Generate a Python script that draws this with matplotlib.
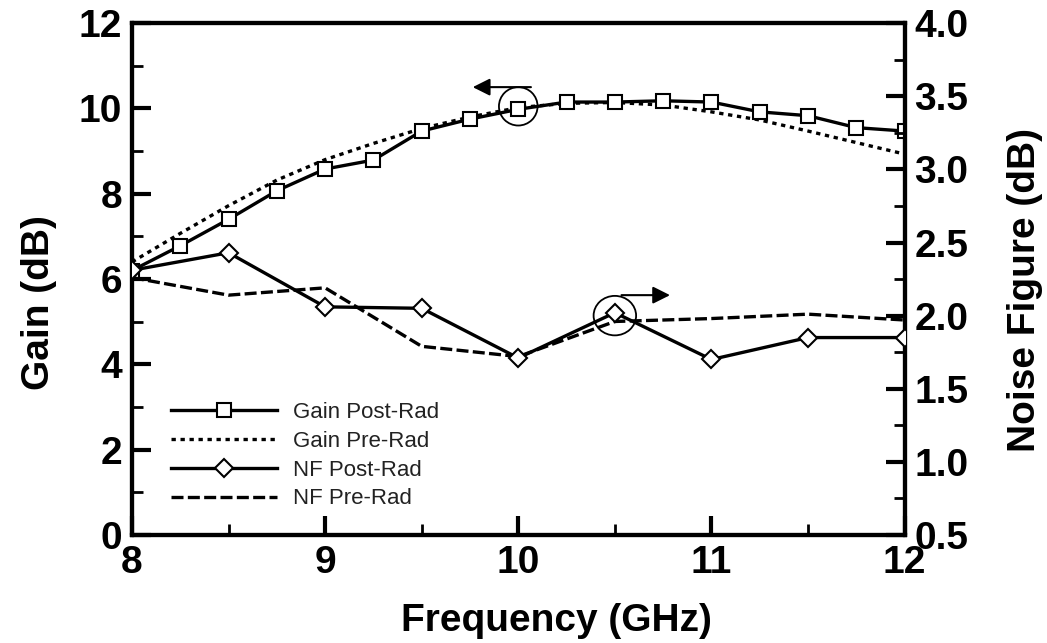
import matplotlib
matplotlib.use('Agg')
import matplotlib.pyplot as plt
from matplotlib.patches import Ellipse
from matplotlib.ticker import MultipleLocator

plt.rcParams['font.family'] = ['Liberation Sans', 'DejaVu Sans']

# gain sweep, 250 MHz steps
freq_gain = [8.0, 8.25, 8.5, 8.75, 9.0, 9.25, 9.5, 9.75, 10.0,
             10.25, 10.5, 10.75, 11.0, 11.25, 11.5, 11.75, 12.0]
gain_post = [6.2, 6.78, 7.4, 8.07, 8.58, 8.79, 9.47, 9.75, 9.98,
             10.15, 10.15, 10.18, 10.15, 9.92, 9.83, 9.55, 9.47]
gain_pre = [6.4, 7.07, 7.72, 8.32, 8.8, 9.18, 9.53, 9.8, 10.02,
            10.12, 10.14, 10.08, 9.92, 9.73, 9.47, 9.2, 8.93]

# noise figure sweep, 500 MHz steps
freq_nf = [8.0, 8.5, 9.0, 9.5, 10.0, 10.5, 11.0, 11.5, 12.0]
nf_post = [2.31, 2.43, 2.06, 2.05, 1.71, 2.02, 1.70, 1.85, 1.85]
nf_pre = [2.26, 2.14, 2.19, 1.79, 1.72, 1.96, 1.98, 2.01, 1.97]

fig = plt.figure(figsize=(10.47, 6.43), dpi=100, facecolor='white')
ax = fig.add_axes([0.126, 0.168, 0.738, 0.796])
ax2 = ax.twinx()

lw = 2.4
l1, = ax.plot(freq_gain, gain_post, '-', color='black', lw=lw, marker='s', ms=10,
              mfc='white', mec='black', mew=1.5, label='Gain Post-Rad', zorder=4)
l2, = ax.plot(freq_gain, gain_pre, color='black', lw=lw, ls=(0, (1.3, 1.4)),
              label='Gain Pre-Rad', zorder=3)
l3, = ax2.plot(freq_nf, nf_post, '-', color='black', lw=lw, marker='D', ms=9,
               mfc='white', mec='black', mew=1.5, label='NF Post-Rad', zorder=4)
l4, = ax2.plot(freq_nf, nf_pre, color='black', lw=lw, ls=(0, (3.6, 1.3)),
               label='NF Pre-Rad', zorder=3)

ax.set_xlim(8, 12)
ax.set_ylim(0, 12)
ax2.set_ylim(0.5, 4.0)

ax.xaxis.set_major_locator(MultipleLocator(1))
ax.xaxis.set_minor_locator(MultipleLocator(0.5))
ax.yaxis.set_major_locator(MultipleLocator(2))
ax.yaxis.set_minor_locator(MultipleLocator(1))
ax2.yaxis.set_major_locator(MultipleLocator(0.5))
ax2.yaxis.set_minor_locator(MultipleLocator(0.25))
ax2.set_yticklabels([f'{v:.1f}' for v in ax2.get_yticks()])

for a in (ax, ax2):
    for s in a.spines.values():
        s.set_linewidth(3)
    a.tick_params(which='major', direction='in', length=14, width=3, labelsize=28, pad=7)
    a.tick_params(which='minor', direction='in', length=8, width=2)
ax.tick_params(top=False, which='both')
ax2.tick_params(top=False, which='both')
for lab in ax.get_xticklabels() + ax.get_yticklabels() + ax2.get_yticklabels():
    lab.set_fontweight('bold')

ax.set_xlabel('Frequency (GHz)', fontsize=28, fontweight='bold', labelpad=16)
ax.set_ylabel('Gain (dB)', fontsize=28, fontweight='bold', labelpad=16)
ax2.set_ylabel('Noise Figure (dB)', fontsize=28, fontweight='bold', labelpad=28)
ax.xaxis.label.set_x(0.55)
ax.yaxis.label.set_y(0.455)
ax2.yaxis.label.set_y(0.478)

# circles marking which axis each pair of curves belongs to
ax.add_patch(Ellipse((10.0, 10.05), 0.2, 0.9, fill=False, lw=1.3, color='black', zorder=5))
ax.annotate('', xy=(9.75, 10.5), xytext=(10.08, 10.5),
            arrowprops=dict(arrowstyle='-|>', color='black', lw=1.5, mutation_scale=26))
ax2.add_patch(Ellipse((10.5, 2.0), 0.22, 0.27, fill=False, lw=1.3, color='black', zorder=5))
ax2.annotate('', xy=(10.8, 2.14), xytext=(10.52, 2.14),
             arrowprops=dict(arrowstyle='-|>', color='black', lw=1.5, mutation_scale=26))

ax.legend(handles=[l1, l2, l3, l4], loc='lower left', bbox_to_anchor=(0.05, 0.05),
          borderaxespad=0, borderpad=0, frameon=False, fontsize=16,
          handlelength=4.8, handletextpad=0.7, labelspacing=0.35, labelcolor='#222222')

fig.savefig('out.png', dpi=100)
